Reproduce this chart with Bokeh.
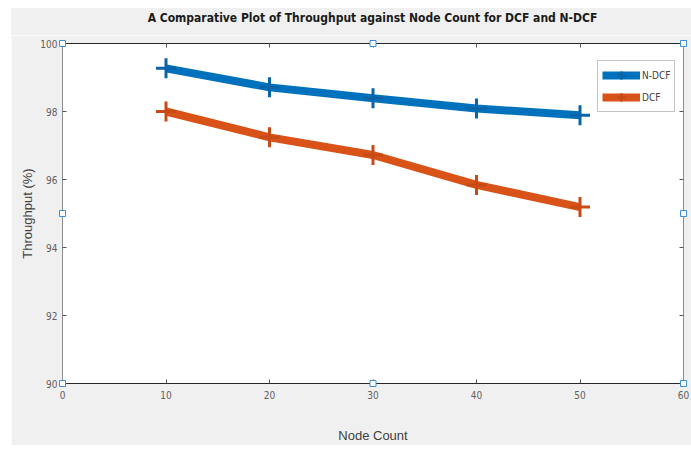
from bokeh.plotting import figure
from bokeh.layouts import column
from bokeh.models import LinearAxis, Range1d, FixedTicker, Legend, LegendItem, Div
from bokeh.embed import file_html
from bokeh.resources import INLINE

node_count = [10, 20, 30, 40, 50]
ndcf = [99.27, 98.71, 98.39, 98.09, 97.89]
dcf = [98.00, 97.24, 96.72, 95.84, 95.19]
x_ticks = [0, 10, 20, 30, 40, 50, 60]
y_ticks = [90, 92, 94, 96, 98, 100]
title_text = "A Comparative Plot of Throughput against Node Count for DCF and N-DCF"

FONT = "DejaVu Sans Condensed, sans-serif"
BLUE = "#0072BD"
ORANGE = "#D95319"
BG = "#f0f0f0"

title_div = Div(text=title_text, width=680, height=27, margin=(8, 0, 0, 11),
                styles={"background-color": BG, "text-align": "center",
                        "font-family": "'DejaVu Sans Condensed', sans-serif",
                        "font-size": "12px", "font-weight": "bold", "color": "#1a1a1a",
                        "line-height": "20px", "padding-left": "43px",
                        "box-sizing": "border-box"})

p = figure(width=680, height=410, x_range=Range1d(0, 60), y_range=Range1d(90, 100),
           output_backend="svg", toolbar_location=None, margin=(0, 0, 7, 11),
           min_border_left=51, min_border_right=8, min_border_top=8, min_border_bottom=61,
           background_fill_color="white", border_fill_color=BG,
           outline_line_color=None,
           x_axis_label="Node Count", y_axis_label="Throughput (%)")

p.xgrid.visible = False
p.ygrid.visible = False

for ax, col in ((p.xaxis[0], "#262626"), (p.yaxis[0], "#8c8c8c")):
    ax.axis_line_color = col
    ax.major_tick_in = 4
    ax.major_tick_out = 0
    ax.minor_tick_line_color = None
    ax.major_tick_line_color = "#555555"
    ax.major_label_text_font = FONT
    ax.major_label_text_font_size = "10px"
    ax.major_label_text_color = "#606060"
    ax.axis_label_text_font = "Liberation Sans"
    ax.axis_label_text_font_size = "13px"
    ax.axis_label_text_font_style = "normal"
    ax.axis_label_text_color = "#404040"

p.xaxis[0].ticker = FixedTicker(ticks=x_ticks)
p.yaxis[0].ticker = FixedTicker(ticks=y_ticks)
p.xaxis[0].major_label_standoff = 7
p.yaxis[0].major_label_standoff = 5
p.xaxis[0].axis_label_standoff = 26
p.yaxis[0].axis_label_standoff = 2

top = LinearAxis(ticker=FixedTicker(ticks=x_ticks), axis_line_color="#262626",
                 major_tick_in=4, major_tick_out=0, minor_tick_line_color=None,
                 major_tick_line_color="#555555",
                 major_label_overrides={t: "" for t in x_ticks},
                 major_label_standoff=0)
right = LinearAxis(ticker=FixedTicker(ticks=y_ticks), axis_line_color="#8c8c8c",
                   major_tick_in=4, major_tick_out=0, minor_tick_line_color=None,
                   major_tick_line_color="#555555",
                   major_label_overrides={t: "" for t in y_ticks},
                   major_label_standoff=0)
p.add_layout(top, "above")
p.add_layout(right, "right")

l1 = p.line(node_count, ndcf, line_color=BLUE, line_width=8)
m1 = p.scatter(node_count, ndcf, marker="cross", size=20, line_color="#0a64a8", line_width=3)
l2 = p.line(node_count, dcf, line_color=ORANGE, line_width=8)
m2 = p.scatter(node_count, dcf, marker="cross", size=20, line_color="#c84a14", line_width=3)

# selection handles at edges/midpoints of the axes box
xs0, xs1 = p.x_range.start, p.x_range.end
ys0, ys1 = p.y_range.start, p.y_range.end
xm, ym = (xs0 + xs1) / 2, (ys0 + ys1) / 2
hx = [xs0, xm, xs1, xs0, xs1, xs0, xm, xs1]
hy = [ys1, ys1, ys1, ym, ym, ys0, ys0, ys0]
p.scatter(hx, hy, marker="square", size=6, fill_color="white", line_color="#3d8fd6",
          line_width=1, level="overlay")

legend = Legend(items=[LegendItem(label="N-DCF", renderers=[l1, m1]),
                       LegendItem(label="DCF", renderers=[l2, m2])],
                location=(535, 271), label_text_font=FONT, label_text_font_size="10px",
                label_text_color="#404040", glyph_width=38, glyph_height=20,
                label_standoff=2, padding=4, spacing=2, margin=0,
                border_line_color="#8c8c8c", border_line_width=1,
                background_fill_color="white", background_fill_alpha=1)
p.add_layout(legend, "center")

layout = column(title_div, p, spacing=0)
open("out.html", "w").write(file_html(layout, INLINE))
